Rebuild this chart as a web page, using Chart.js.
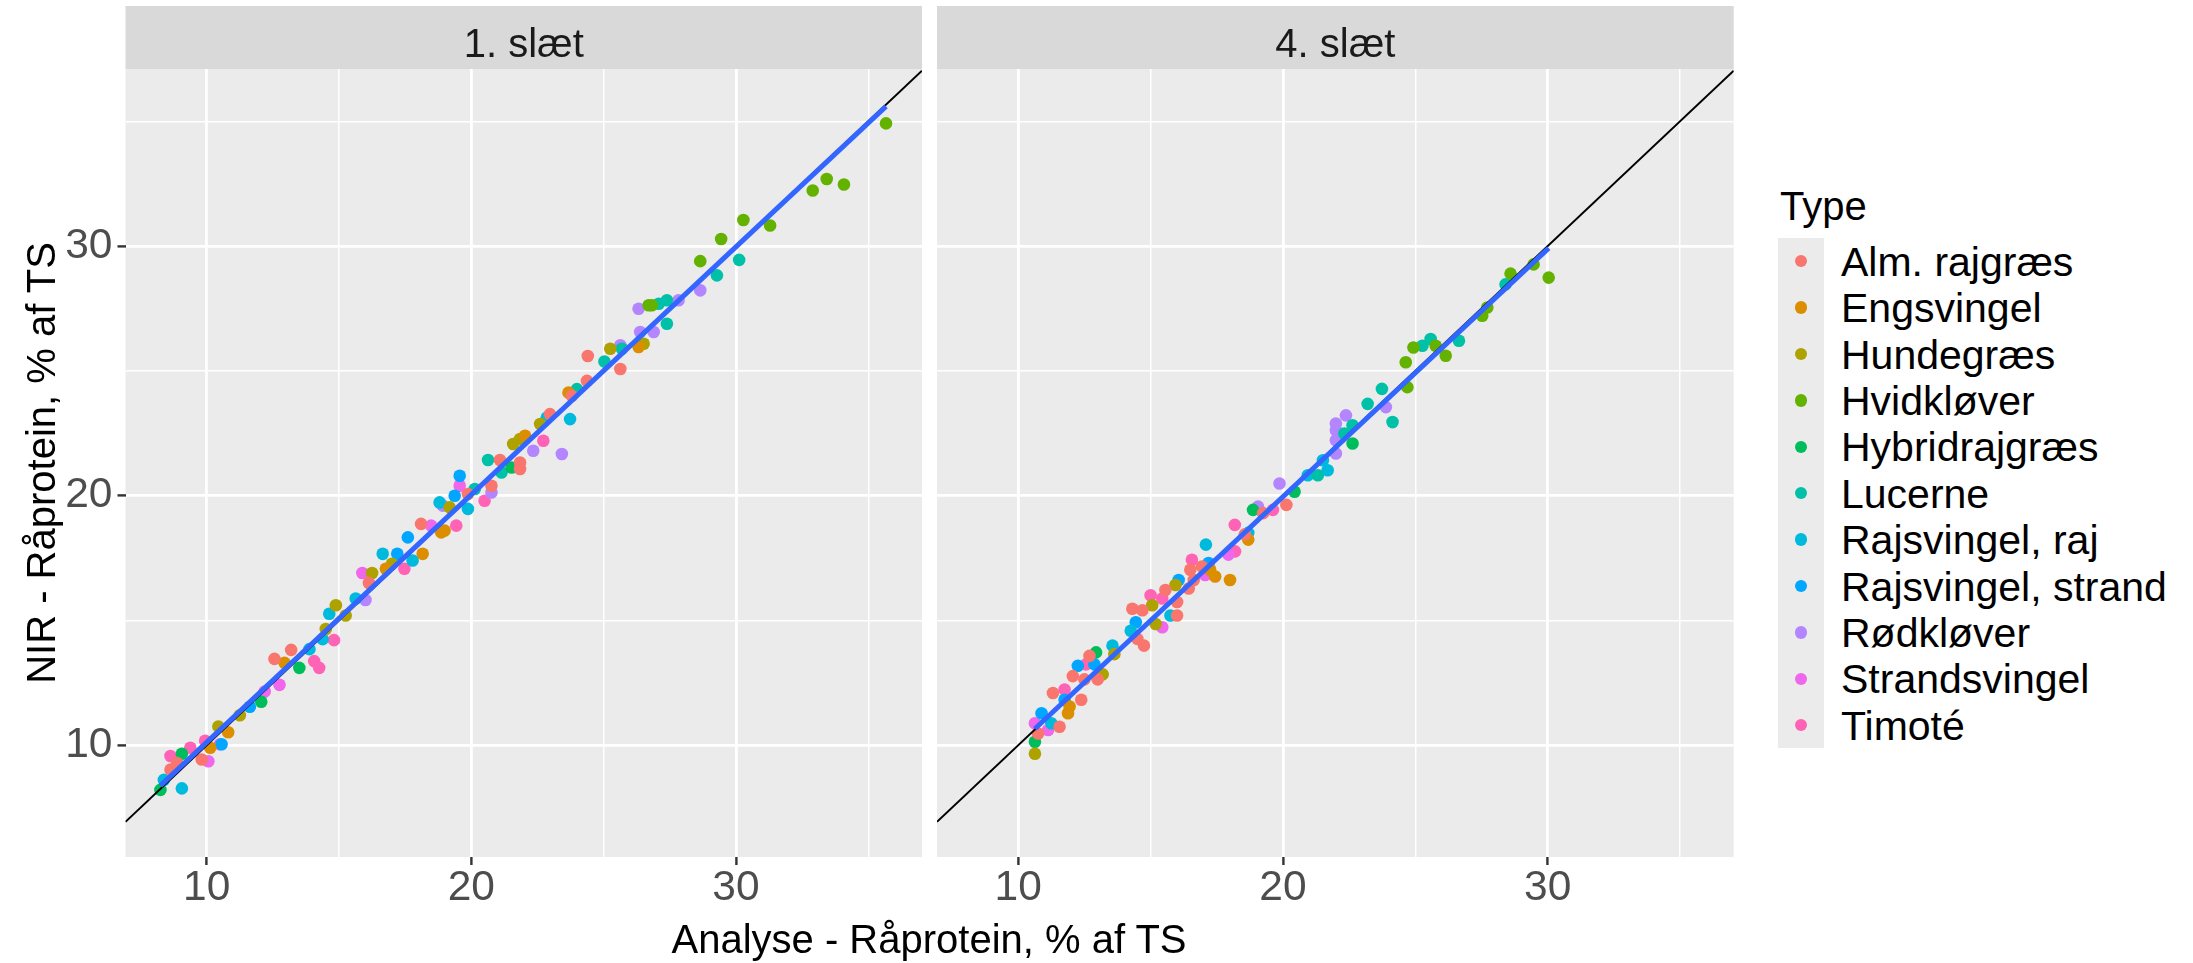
<!DOCTYPE html>
<html lang="da">
<head>
<meta charset="UTF-8">
<title>NIR - Råprotein</title>
<script src="https://cdn.jsdelivr.net/npm/chart.js"></script>
<style>
  html, body { margin: 0; padding: 0; background: #ffffff; }
  #figur { position: relative; width: 2193px; height: 963px; overflow: hidden;
           font-family: 'Liberation Sans', Arial, sans-serif; color: #000; }
  #figur canvas { position: absolute; top: 0; }
  #c1 { left: 0; }
  #c2 { left: 930px; }
  .titel { position: absolute; font-size: 40px; line-height: 40px; white-space: nowrap; text-align: center; }
  #xtitel { left: 429px; top: 919px; width: 1000px; }
  #ytitel { left: -409px; top: 443px; width: 900px; transform: rotate(-90deg); }
  #legende-titel { position: absolute; left: 1780px; top: 186px; font-size: 40px; line-height: 40px; }
  #noegler { position: absolute; left: 1778px; top: 238px; width: 46px; background: #ebebeb; }
  .prik { position: absolute; border-radius: 50%; }
  .navn { position: absolute; font-size: 41px; line-height: 41px; white-space: nowrap; }
</style>
</head>
<body>
<div id="figur">
  <canvas id="c1" width="930" height="963"></canvas>
  <canvas id="c2" width="810" height="963"></canvas>
  <div id="ytitel" class="titel">NIR - Råprotein, % af TS</div>
  <div id="xtitel" class="titel">Analyse - Råprotein, % af TS</div>
  <div id="legende-titel">Type</div>
  <div id="noegler"></div>
</div>

<script>
  // grupper og farver (ggplot hue-palet)
  const types = ['Alm. rajgræs', 'Engsvingel', 'Hundegræs', 'Hvidkløver', 'Hybridrajgræs', 'Lucerne',
                 'Rajsvingel, raj', 'Rajsvingel, strand', 'Rødkløver', 'Strandsvingel', 'Timoté'];
  const typeColors = ['#F8766D', '#DB8E00', '#AEA200', '#64B200', '#00BD5C', '#00C1A7',
                      '#00BADE', '#00A6FF', '#B385FF', '#EF67EB', '#FF63B6'];

  const facets = ['1. slæt', '4. slæt'];

  // 1. slæt: analyse (x), NIR (y), type-indeks
  const slaet1X = [
    8.25, 8.38, 9.06, 8.63, 8.63, 9.06, 8.88, 9.38, 9.94, 9.81, 10.06, 10.13, 10.50, 10.56, 10.44, 10.81,
    11.25, 11.63, 12.06, 12.19, 12.75, 12.56, 13.19, 12.94, 13.50, 13.88, 14.06, 14.25, 14.38, 14.81,
    14.50, 14.63, 14.88, 15.25, 15.63, 15.88, 16.25, 16.13, 16.00,
    16.65, 17.20, 17.60, 17.00, 17.47, 16.77, 17.78, 18.16, 18.10, 18.48, 18.86, 18.99, 18.80, 18.92,
    19.18, 19.37, 19.56, 19.56, 19.43, 19.87, 19.87, 20.13, 20.50, 20.76, 20.76, 20.63, 21.08, 21.14,
    21.52, 21.84, 21.84, 21.58, 21.84, 22.03, 22.34, 22.72, 22.60, 22.85, 22.97, 23.42, 23.73, 23.67,
    23.80, 23.99, 24.37, 24.40, 25.03, 25.63,
    25.25, 25.63, 25.69, 26.32, 26.51, 26.38, 26.89, 27.39, 26.32, 26.70, 26.82, 27.08, 27.39, 27.83,
    28.65, 28.65, 29.28, 29.44, 30.12, 30.28, 31.29, 32.90, 33.43, 34.08, 35.67
  ];
  const slaet1Y = [
    8.21, 8.61, 8.27, 9.02, 9.57, 9.66, 9.29, 9.90, 10.18, 9.43, 9.36, 9.90, 10.04, 10.04, 10.75, 10.52,
    11.20, 11.54, 11.74, 12.15, 12.42, 13.46, 13.82, 13.30, 13.10, 13.85, 13.37, 13.10, 14.25, 14.21,
    14.66, 15.27, 15.61, 15.20, 15.88, 16.90, 16.90, 16.50, 15.82,
    17.67, 17.67, 18.33, 17.27, 17.07, 17.07, 17.40, 17.67, 18.87, 18.80, 18.53, 18.60, 19.73, 19.60,
    19.53, 20.00, 20.80, 20.40, 18.80, 19.47, 20.07, 20.27, 19.80, 20.40, 20.13, 21.43, 21.43, 20.93,
    21.13, 21.33, 21.07, 22.07, 22.27, 22.40, 21.80, 22.20, 22.87, 23.13, 23.27, 21.67, 23.07, 24.13,
    24.00, 24.27, 24.60, 25.60, 25.38, 25.08,
    25.89, 26.03, 25.89, 25.96, 26.09, 26.56, 26.56, 26.89, 27.49, 27.63, 27.63, 27.69, 27.83, 27.83,
    28.23, 29.40, 28.83, 30.29, 29.45, 31.05, 30.83, 32.23, 32.69, 32.47, 34.92
  ];
  const slaet1Type = [
    4, 6, 6, 0, 10, 4, 0, 10, 10, 0, 9, 1, 9, 7, 2, 1,
    2, 7, 4, 9, 9, 0, 0, 1, 4, 6, 10, 10, 6, 10,
    2, 6, 2, 2, 6, 9, 2, 0, 8,
    6, 7, 7, 2, 10, 1, 6, 1, 0, 9, 1, 1, 6, 8,
    2, 7, 7, 9, 10, 6, 0, 5, 10, 0, 8, 5, 0, 5,
    4, 0, 0, 2, 2, 1, 8, 10, 2, 6, 0, 8, 6, 1,
    0, 5, 0, 0, 5, 0,
    2, 8, 5, 1, 2, 8, 8, 5, 8, 3, 3, 5, 5, 8,
    8, 3, 5, 3, 5, 3, 3, 3, 3, 3, 3
  ];

  // 4. slæt
  const slaet4X = [
    10.63, 10.63, 10.63, 10.88, 10.75, 11.13, 11.25, 11.56, 11.31, 11.75, 11.88, 11.94, 11.75, 12.38,
    12.06, 12.25, 12.56, 12.69, 12.94, 12.88, 13.00, 13.19, 12.50, 13.56, 13.63, 14.31, 14.25, 14.44,
    14.50, 14.75, 14.69, 15.00, 15.06, 15.19, 15.44, 15.56, 15.44, 15.75, 16.00, 15.94, 16.06, 16.00,
    16.44, 16.56, 16.50, 16.63, 16.94, 17.06, 17.19, 17.44, 17.25, 17.09, 18.00, 17.94, 18.19, 18.69,
    18.69, 18.56,
    18.18, 18.87, 19.06, 19.25, 19.62, 20.13, 19.87, 20.44, 20.94, 21.32, 21.69, 21.51, 22.00, 22.00,
    22.00, 22.00, 22.38, 22.32, 22.63, 22.63, 23.20, 23.89, 23.74, 24.14, 24.70, 24.64, 24.93, 25.27,
    25.58, 25.77, 26.15, 26.65, 27.53, 27.72, 28.41, 28.60, 29.47, 30.04
  ];
  const slaet4Y = [
    9.66, 10.14, 10.88, 11.28, 10.47, 10.61, 10.88, 10.74, 12.09, 12.23, 11.28, 11.55, 11.82, 11.82,
    12.77, 13.18, 13.24, 13.58, 13.72, 13.24, 12.64, 12.84, 12.64, 13.99, 13.65, 15.47, 14.59, 14.93,
    14.26, 13.99, 15.41, 16.01, 15.61, 14.86, 14.73, 16.22, 15.88, 15.20, 15.20, 16.42, 16.62, 15.74,
    16.28, 17.43, 17.03, 16.62, 17.16, 16.82, 17.30, 16.76, 17.03, 18.04, 16.62, 17.64, 17.77, 18.24,
    18.51, 18.45,
    18.83, 19.43, 19.56, 19.30, 19.43, 19.63, 20.49, 20.16, 20.82, 20.82, 21.02, 21.42, 21.69, 22.22,
    22.62, 22.89, 23.22, 22.49, 22.82, 22.09, 23.68, 23.55, 24.28, 22.95, 24.35, 25.35, 25.94, 26.01,
    26.28, 26.01, 25.61, 26.21, 27.21, 27.54, 28.47, 28.90, 29.27, 28.74
  ];
  const slaet4Type = [
    2, 4, 9, 7, 0, 9, 6, 0, 0, 10, 1, 1, 7, 0,
    0, 7, 10, 0, 4, 7, 0, 2, 0, 6, 2, 0, 6, 7,
    0, 0, 0, 10, 2, 2, 9, 0, 10, 6, 0, 2, 7, 0,
    0, 10, 0, 0, 0, 9, 7, 1, 1, 6, 1, 9, 10, 1,
    6, 0,
    10, 4, 8, 0, 10, 0, 8, 4, 6, 5, 6, 6, 8, 8,
    8, 8, 8, 5, 5, 4, 5, 8, 5, 5, 3, 3, 3, 5,
    5, 3, 3, 5, 3, 3, 5, 3, 3, 3
  ];

  // lineær regression pr. panel (endepunkter)
  const fit1X = [8.25, 35.67];
  const fit1Y = [8.38, 35.60];
  const fit4X = [10.63, 30.04];
  const fit4Y = [10.66, 29.92];

  // akser
  const xLimits = [6.93, 37.03];
  const yLimits = [5.52, 37.10];
  const majorTicks = [10, 20, 30];
  const minorTicks = [15, 25, 35];
  const tickLabels = ['10', '20', '30'];

  const FONT = "'Liberation Sans', Arial, sans-serif";
  const STRIP_TOP = 6;

  const isMajor = v => majorTicks.includes(v);
  const gridValues = majorTicks.concat(minorTicks).sort((a, b) => a - b);

  // grå panelbaggrund og facet-overskrift
  const panelFrame = {
    id: 'panelFrame',
    beforeDraw(chart, args, opts) {
      const { ctx, chartArea: a } = chart;
      ctx.save();
      ctx.fillStyle = '#EBEBEB';
      ctx.fillRect(a.left, a.top, a.width, a.height);
      ctx.fillStyle = '#D9D9D9';
      ctx.fillRect(a.left, STRIP_TOP, a.width, a.top - STRIP_TOP);
      ctx.fillStyle = '#1A1A1A';
      ctx.font = '40px ' + FONT;
      ctx.textAlign = 'center';
      ctx.textBaseline = 'alphabetic';
      ctx.fillText(opts.label, (a.left + a.right) / 2, 57);
      ctx.restore();
    }
  };

  function gridOpts(showTicks) {
    return {
      color: '#FFFFFF',
      lineWidth: c => (c.tick && isMajor(c.tick.value)) ? 2.8 : 1.5,
      drawTicks: showTicks,
      tickLength: 8,
      tickWidth: 2.4,
      tickColor: c => (c.tick && isMajor(c.tick.value)) ? '#333333' : 'rgba(0,0,0,0)'
    };
  }

  const tickText = v => {
    const i = majorTicks.indexOf(v);
    return i >= 0 ? tickLabels[i] : '';
  };

  const tickFont = { family: FONT, size: 42.5, lineHeight: 1.1 };

  function makePanel(canvasId, label, xs, ys, ts, fitX, fitY, leftWidth, rightPad, showY) {
    const datasets = [
      {
        label: 'lm',
        data: fitX.map((x, i) => ({ x: x, y: fitY[i] })),
        showLine: true, borderColor: '#3366FF', borderWidth: 5, pointRadius: 0, order: 0
      },
      {
        label: 'y = x',
        data: xLimits.map(v => ({ x: v, y: v })),
        showLine: true, borderColor: '#000000', borderWidth: 2, pointRadius: 0, order: 1
      }
    ];
    types.forEach((name, k) => {
      const pts = [];
      xs.forEach((x, i) => { if (ts[i] === k) pts.push({ x: x, y: ys[i] }); });
      datasets.push({
        label: name, data: pts,
        backgroundColor: typeColors[k], borderWidth: 0,
        pointRadius: 6.3, pointHoverRadius: 6.3, order: 2
      });
    });

    return new Chart(document.getElementById(canvasId), {
      type: 'scatter',
      data: { datasets: datasets },
      plugins: [panelFrame],
      options: {
        responsive: false,
        devicePixelRatio: 1,
        animation: false,
        events: [],
        layout: { padding: { top: 69, right: rightPad, bottom: 0, left: 0 } },
        plugins: {
          legend: { display: false },
          tooltip: { enabled: false },
          panelFrame: { label: label }
        },
        scales: {
          x: {
            type: 'linear', min: xLimits[0], max: xLimits[1],
            afterBuildTicks: s => { s.ticks = gridValues.map(v => ({ value: v })); },
            afterFit: s => { s.height = 963 - 857; },
            border: { display: false },
            grid: gridOpts(true),
            ticks: {
              autoSkip: false, maxRotation: 0, padding: 0,
              color: '#4D4D4D', font: tickFont,
              callback: tickText
            }
          },
          y: {
            type: 'linear', min: yLimits[0], max: yLimits[1],
            afterBuildTicks: s => { s.ticks = gridValues.map(v => ({ value: v })); },
            afterFit: s => { s.width = leftWidth; },
            border: { display: false },
            grid: gridOpts(showY),
            ticks: {
              display: showY, autoSkip: false, padding: 5,
              color: '#4D4D4D', font: tickFont,
              callback: tickText
            }
          }
        }
      }
    });
  }

  makePanel('c1', facets[0], slaet1X, slaet1Y, slaet1Type, fit1X, fit1Y, 125.5, 8, true);
  makePanel('c2', facets[1], slaet4X, slaet4Y, slaet4Type, fit4X, fit4Y, 7, 5, false);

  // legende
  const KEY_H = 46.4;
  const keys = document.getElementById('noegler');
  keys.style.height = (types.length * KEY_H) + 'px';
  const fig = document.getElementById('figur');
  types.forEach((name, i) => {
    const cy = 238 + KEY_H * (i + 0.5);
    const dot = document.createElement('div');
    dot.className = 'prik';
    dot.style.left = (1801 - 6.3) + 'px';
    dot.style.top = (cy - 6.3) + 'px';
    dot.style.width = dot.style.height = '12.6px';
    dot.style.background = typeColors[i];
    fig.appendChild(dot);
    const txt = document.createElement('div');
    txt.className = 'navn';
    txt.style.left = '1841px';
    txt.style.top = (cy - 19.5) + 'px';
    txt.textContent = name;
    fig.appendChild(txt);
  });
</script>
</body>
</html>
